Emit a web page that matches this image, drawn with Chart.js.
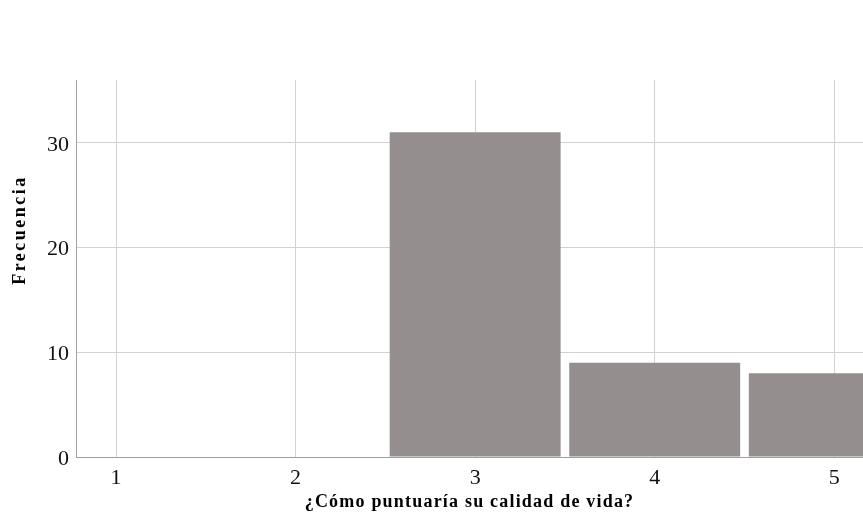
<!DOCTYPE html>
<html>
<head>
<meta charset="utf-8">
<script src="https://cdn.jsdelivr.net/npm/chart.js@4.4.1/dist/chart.umd.min.js"></script>
<style>
html, body { margin: 0; padding: 0; background: #fff; overflow: hidden; }
canvas { display: block; }
</style>
</head>
<body>
<canvas id="histChart" width="863" height="529"></canvas>
<script>
const scores = [1, 2, 3, 4, 5];
const frequencies = [0, 0, 31, 9, 8];
const yTicks = [0, 10, 20, 30];
const xTitle = "¿Cómo puntuaría su calidad de vida?";
const yTitle = "Frecuencia";

const canvas = document.getElementById("histChart");
const ctx = canvas.getContext("2d");

// axis titles drawn by hand so the y title can sit where SPSS puts it
const axisTitles = {
    id: "axisTitles",
    afterDraw(chart) {
        const c = chart.ctx;
        const area = chart.chartArea;
        c.save();
        c.fillStyle = "#000";
        c.font = "bold 18px 'Liberation Serif'";
        c.textAlign = "center";
        c.textBaseline = "middle";
        c.letterSpacing = "1.2px";
        c.fillText(xTitle, (area.left + area.right) / 2, area.bottom + 45);
        c.letterSpacing = "2.5px";
        c.translate(20, area.top + 150);
        c.rotate(-Math.PI / 2);
        c.fillText(yTitle, 0, 0);
        c.restore();
    }
};

new Chart(ctx, {
    type: "bar",
    data: {
        datasets: [{
            data: scores.map((s, i) => ({ x: s, y: frequencies[i] })),
            backgroundColor: "#948f8e",
            borderWidth: 0,
            barPercentage: 0.952,
            categoryPercentage: 1.0
        }]
    },
    options: {
        responsive: false,
        animation: false,
        layout: { padding: { top: 80, left: 0, right: 0, bottom: 0 } },
        plugins: {
            legend: { display: false },
            tooltip: { enabled: false }
        },
        scales: {
            x: {
                type: "linear",
                offset: false,
                min: 0.777,
                max: 5.16,
                afterBuildTicks: scale => { scale.ticks = scores.map(v => ({ value: v })); },
                afterFit: scale => { scale.height = 72; },
                grid: { color: "#d2d2d2", drawTicks: false, offset: false },
                border: { color: "#a0a0a0" },
                ticks: {
                    padding: 8,
                    color: "#111",
                    font: { family: "'Liberation Serif'", size: 22 }
                }
            },
            y: {
                min: 0,
                max: 36,
                afterBuildTicks: scale => { scale.ticks = yTicks.map(v => ({ value: v })); },
                afterFit: scale => { scale.width = 76; },
                grid: { color: "#d2d2d2", drawTicks: false },
                border: { color: "#a0a0a0" },
                ticks: {
                    padding: 7,
                    labelOffset: 2,
                    color: "#111",
                    font: { family: "'Liberation Serif'", size: 22 }
                }
            }
        }
    },
    plugins: [axisTitles]
});
</script>
</body>
</html>
